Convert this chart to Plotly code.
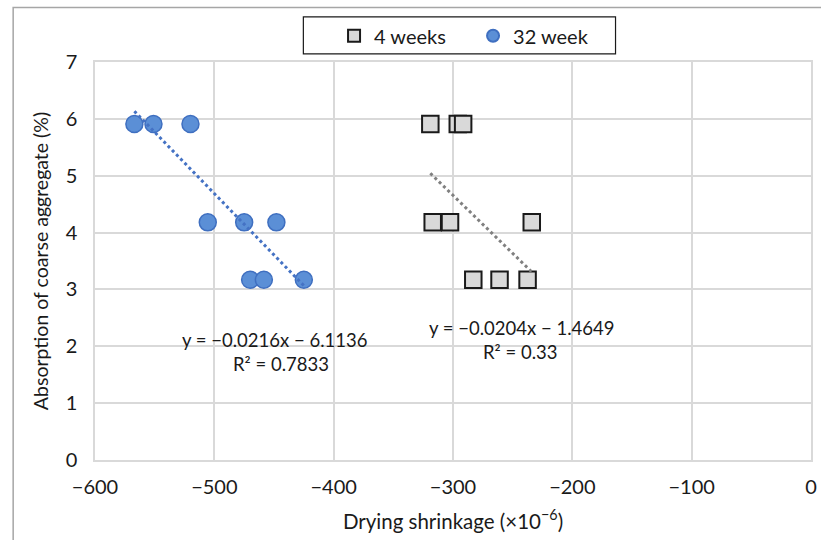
import plotly.graph_objects as go

# Drying shrinkage (x10^-6) vs absorption of coarse aggregate (%)
wk4_shrinkage = [-319, -296, -291.5, -317, -302.5, -234, -283, -261, -237.5]
wk4_absorption = [5.91, 5.91, 5.91, 4.18, 4.18, 4.18, 3.17, 3.17, 3.17]

wk32_shrinkage = [-567, -551, -520, -505.5, -475, -448, -470, -458.5, -425]
wk32_absorption = [5.91, 5.91, 5.91, 4.18, 4.18, 4.18, 3.17, 3.17, 3.17]

# Linear trendlines (slope, intercept) and their R^2
wk4_fit = (-0.0204, -1.4649, 0.33)
wk32_fit = (-0.0216, -6.1136, 0.7833)

x_ticks = [-600, -500, -400, -300, -200, -100, 0]
y_ticks = [0, 1, 2, 3, 4, 5, 6, 7]

FONT = "Lato, 'Liberation Sans', sans-serif"
GRID = "#d9d9d9"


def trend(xs, fit):
    lo, hi = min(xs), max(xs)
    m, b, _ = fit
    return [lo, hi], [m * lo + b, m * hi + b]


def eq_text(fit):
    m, b, r2 = fit
    sign = "−" if b < 0 else "+"
    return f"y = −{abs(m):.4f}x {sign} {abs(b):.4f}", f"R² = {r2:g}"


fig = go.Figure()

fig.add_trace(go.Scatter(
    x=wk4_shrinkage, y=wk4_absorption, mode="markers", name="4 weeks",
    marker=dict(symbol="square", size=16.5, color="#d9d9d9",
                line=dict(color="#1a1a1a", width=2)),
))
fig.add_trace(go.Scatter(
    x=wk32_shrinkage, y=wk32_absorption, mode="markers", name="32 week",
    marker=dict(symbol="circle", size=17, color="#5b8fd6",
                line=dict(color="#3f6fc0", width=1.5)),
))

tx, ty = trend(wk4_shrinkage, wk4_fit)
fig.add_trace(go.Scatter(x=tx, y=ty, mode="lines", showlegend=False,
                         line=dict(color="#808080", width=3, dash="dot"),
                         hoverinfo="skip"))
tx, ty = trend(wk32_shrinkage, wk32_fit)
fig.add_trace(go.Scatter(x=tx, y=ty, mode="lines", showlegend=False,
                         line=dict(color="#4472c4", width=3, dash="dot"),
                         hoverinfo="skip"))

# Trendline equation labels
e32, r32 = eq_text(wk32_fit)
e4, r4 = eq_text(wk4_fit)
for text, x, y in [(e32, -450, 2.11), (r32, -444.5, 1.69),
                   (e4, -242.5, 2.32), (r4, -243.5, 1.90)]:
    fig.add_annotation(x=x, y=y, text=text, showarrow=False,
                       font=dict(family=FONT, size=18.5, color="#1a1a1a"),
                       xanchor="center", yanchor="middle")

# Outer chart border
fig.add_shape(type="rect", xref="paper", yref="paper",
              x0=-0.1143, x1=1.2, y0=1.137, y1=-0.4,
              line=dict(color="#a6a6a6", width=1.5), fillcolor="rgba(0,0,0,0)",
              layer="below")
# Legend frame
fig.add_shape(type="rect", xref="paper", yref="paper",
              x0=0.291, x1=0.727, y0=1.1135, y1=1.0205,
              line=dict(color="#1a1a1a", width=1.2), fillcolor="white",
              layer="above")

fig.update_layout(
    width=821, height=540,
    margin=dict(l=95, r=4, t=62, b=80),
    paper_bgcolor="white", plot_bgcolor="white",
    font=dict(family=FONT, size=20, color="#1a1a1a"),
    showlegend=True,
    legend=dict(orientation="h", x=0.528, xanchor="center", y=1.115, yanchor="top",
                borderwidth=0, bgcolor="rgba(0,0,0,0)",
                font=dict(family=FONT, size=20, color="#1a1a1a"),
                entrywidth=94, itemsizing="constant", tracegroupgap=0),
    xaxis=dict(range=[-600, 0], tickvals=x_ticks, showgrid=True, gridcolor=GRID,
               gridwidth=1.5, zeroline=False, showline=True, mirror=True,
               linecolor=GRID, linewidth=1.5, ticks="", ticklabelstandoff=8,
               tickfont=dict(family=FONT, size=20),
               title=dict(text="Drying shrinkage (×10<sup>−6</sup>)",
                          font=dict(family=FONT, size=20.5), standoff=18)),
    yaxis=dict(range=[0, 7], tickvals=y_ticks, showgrid=True, gridcolor=GRID,
               gridwidth=1.5, zeroline=False, showline=True, mirror=True,
               linecolor=GRID, linewidth=1.5, ticks="", ticklabelstandoff=12,
               tickfont=dict(family=FONT, size=20),
               title=dict(text="Absorption of coarse aggregate (%)",
                          font=dict(family=FONT, size=19.5), standoff=12)),
)

fig.write_html("out.html")
